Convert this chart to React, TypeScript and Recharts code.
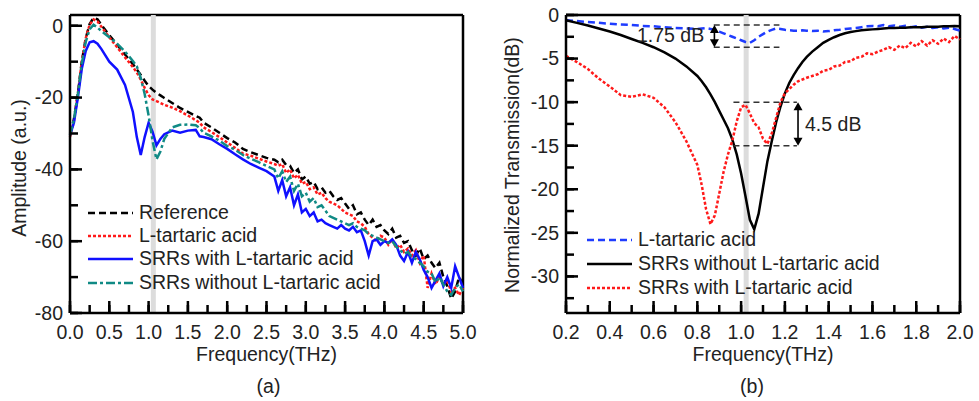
import React from 'react';
import { LineChart, Line, XAxis, YAxis, ReferenceLine } from 'recharts';

const FONT = '"Liberation Sans", Arial, sans-serif';
const FS = 19.5;

// ---- (a) amplitude spectra ----
const freqA = [
  0, 0.05, 0.1, 0.15, 0.2, 0.25, 0.3, 0.35, 0.4,
  0.5, 0.6, 0.7, 0.8,
  0.85, 0.9, 0.95, 1.0, 1.05, 1.1, 1.15,
  1.2, 1.3, 1.4, 1.5, 1.6,
  1.65, 1.7,
  1.8, 1.9, 2.0, 2.1, 2.2, 2.3, 2.4, 2.5, 2.6,
  2.65, 2.7, 2.75, 2.8, 2.85, 2.9, 2.95,
  3.0, 3.05, 3.1, 3.15, 3.2, 3.25, 3.3, 3.35, 3.4, 3.45, 3.5, 3.55, 3.6, 3.65, 3.7, 3.75, 3.8, 3.85, 3.9, 3.95,
  4.0, 4.05, 4.1, 4.15, 4.2, 4.25, 4.3, 4.35, 4.4, 4.45, 4.5, 4.55, 4.6, 4.65, 4.7, 4.75, 4.8, 4.85, 4.9, 4.95,
  5.0,
];
const referenceAmp = [
  -30, -26, -19, -10, -3.5, 0.5, 2.2, 1.8, 0.2,
  -2.6, -5.3, -8, -10.7,
  -12.2, -13.7, -15.3, -16.8, -17.8, -18.7, -19.4,
  -20.1, -21.5, -22.9, -24, -25.1,
  -25.6, -27,
  -28.3, -29.8, -31.3, -32.5, -34.3, -35.2, -36, -36.8, -37.3,
  -38, -37.3, -38.8, -39, -41, -40, -42.8,
  -42, -44, -43.5, -45.5, -45, -46.5, -46, -47.5, -48.5, -48, -49.5, -51, -50, -52.5, -52, -54, -55.5, -54, -56, -55.5,
  -57, -58, -56.5, -59, -58.5, -60.5, -60, -62.5, -64, -62, -65, -64, -66, -67.5, -66, -70, -72.5, -76, -74, -70,
  -72,
];
const tartaricAmp = [
  -31, -26.5, -19, -10, -3.5, 0.3, 1.8, 1.2, -0.3,
  -3.2, -6, -8.8, -11.5,
  -13, -15, -17.3, -19.3, -20.5, -21, -21.5,
  -22, -22.8, -23.8, -25, -26.3,
  -27, -28.3,
  -29.6, -31, -32.5, -34, -35.6, -36.2, -37, -37.8, -38.5,
  -39, -38.5, -41, -40, -42.5, -41.5, -44,
  -43.5, -45.5, -45, -47, -46.5, -48, -49, -49.5, -50, -51, -52, -52.5, -53, -54.5, -55, -56, -58, -59, -60, -58.5,
  -59, -61, -59.5, -62, -61, -63, -62, -64, -62.5, -66, -64, -73, -69, -72, -70, -72, -71, -74, -73, -75,
  -73,
];
const srrWithAmp = [
  -30.5, -27, -20, -12, -7, -4.6, -4.3, -5, -6.5,
  -10, -12.2, -16.5, -24,
  -31, -36, -31, -27, -29.5, -33.3, -31.5,
  -30.2, -29.2, -29.8, -29.2, -29,
  -30.8, -31,
  -31.6, -33, -34.3, -35.8, -37.2, -38.5, -39.5, -40.5, -42,
  -46, -43, -47.5, -45, -50, -47, -52,
  -51, -53, -52, -54.5, -54, -55, -55.5, -56, -56.5, -55.5, -56.5, -57, -56, -57.5, -57, -60, -64, -60, -59.5, -61,
  -60, -60.5, -59.5, -61, -64, -65.5, -63, -66, -63, -65, -68, -70, -73, -71, -69, -72.5, -70, -73, -67, -70,
  -73,
];
const srrWithoutAmp = [
  -30.5, -26, -19, -10.5, -4.5, -1, 0.3, -0.5, -1.5,
  -3.2, -5, -7.2, -9.8,
  -11.3, -14.5, -19, -25, -32, -37.2, -35,
  -31.5, -28.3, -27.6, -27.5, -27.7,
  -28.5, -29.8,
  -30.8, -32, -33.5, -34.5, -36, -37, -38, -39, -40,
  -42.5, -40.5, -43.5, -42, -46, -44, -47.5,
  -46.5, -49, -48, -50.5, -50, -51.5, -53, -53.5, -54, -54.5, -55, -55.5, -55, -56, -56.5, -57, -58, -58.5, -59, -59.5,
  -60, -60.5, -60, -61.5, -62.5, -63.5, -63, -64.5, -65, -66, -67, -68.5, -69, -71.5, -70, -72, -74, -75, -73, -72,
  -74,
];
const ticksAX = [0, 0.25, 0.5, 0.75, 1, 1.25, 1.5, 1.75, 2, 2.25, 2.5, 2.75, 3, 3.25, 3.5, 3.75, 4, 4.25, 4.5, 4.75, 5];
const ticksAY = [-80, -70, -60, -50, -40, -30, -20, -10, 0];

// ---- (b) normalized transmission ----
const freqB = [
  0.2, 0.25, 0.3, 0.35, 0.4, 0.45, 0.5, 0.55, 0.6, 0.65, 0.7, 0.75, 0.8,
  0.82, 0.84, 0.86, 0.88, 0.9, 0.92, 0.94, 0.96, 0.98, 1.0, 1.02, 1.04, 1.06, 1.08, 1.1, 1.12, 1.14, 1.16, 1.18, 1.2, 1.22, 1.24, 1.26, 1.28, 1.3,
  1.325, 1.35, 1.375, 1.4, 1.425, 1.45, 1.475, 1.5, 1.525, 1.55, 1.575, 1.6, 1.625, 1.65, 1.675, 1.7, 1.725, 1.75, 1.775, 1.8, 1.825, 1.85, 1.875, 1.9, 1.925, 1.95, 1.975, 2.0,
];
const tartaricTrans = [
  -0.6, -0.7, -0.8, -0.9, -1.0, -1.1, -1.15, -1.25, -1.3, -1.4, -1.5, -1.55, -1.6,
  -1.55, -1.5, -1.6, -1.7, -1.9, -2.1, -2.3, -2.5, -2.7, -2.9, -3.1, -3.2, -2.9, -2.5, -2.2, -1.9, -1.7, -1.55, -1.6, -1.7, -1.75, -1.8, -1.8, -1.75, -1.8,
  -1.85, -1.8, -1.9, -1.85, -1.75, -1.7, -1.6, -1.55, -1.5, -1.4, -1.3, -1.25, -1.3, -1.15, -1.3, -1.2, -1.35, -1.25, -1.4, -1.3, -1.45, -1.35, -1.5, -1.4, -1.55, -1.45, -1.6, -1.8,
];
const srrWithoutTrans = [
  -0.6, -0.9, -1.2, -1.55, -1.9, -2.3, -2.75, -3.2, -3.7, -4.3, -5.0, -5.9, -7.0,
  -7.6, -8.3, -9.1, -10.0, -11.0, -12.0, -13.0, -14.3, -16.0, -18.2, -20.8, -23.5, -24.6, -22.8, -19.8, -16.8, -14.5, -12.3, -10.5, -9.0, -7.8, -6.9, -6.1, -5.4, -4.8,
  -4.2, -3.7, -3.2, -2.85, -2.55, -2.3, -2.1, -1.95, -1.85, -1.75, -1.7, -1.65, -1.6, -1.55, -1.5, -1.5, -1.45, -1.45, -1.4, -1.4, -1.4, -1.35, -1.35, -1.35, -1.3, -1.3, -1.25, -1.3,
];
const srrWithTrans = [
  -4.7, -5.4, -6.2, -7.3, -8.2, -9.2, -9.4, -9.1, -9.5, -10.6, -12.3, -14.5, -17.2,
  -19.5, -22.3, -24.0, -23.0, -20.5, -18.0, -16.0, -14.4, -12.2, -10.6, -10.3, -11.3, -12.4, -12.9, -14.2, -14.8, -13.6, -11.8, -10.0, -9.0, -8.5, -8.0, -7.6, -7.4, -7.2,
  -7.0, -6.8, -6.4, -6.3, -5.9, -5.8, -5.4, -5.3, -4.9, -4.8, -4.4, -4.5, -4.2, -4.0, -3.7, -4.0, -3.5, -3.8, -3.2, -3.6, -3.0, -3.5, -2.9, -3.3, -2.7, -3.1, -2.4, -2.8,
];
const ticksBX = [0.2, 0.3, 0.4, 0.5, 0.6, 0.7, 0.8, 0.9, 1.0, 1.1, 1.2, 1.3, 1.4, 1.5, 1.6, 1.7, 1.8, 1.9, 2.0];
const ticksBY = [-32.5, -30, -27.5, -25, -22.5, -20, -17.5, -15, -12.5, -10, -7.5, -5, -2.5, 0];

const dataA = freqA.map((f, i) => ({
  f,
  ref: referenceAmp[i],
  lta: tartaricAmp[i],
  srrWith: srrWithAmp[i],
  srrWithout: srrWithoutAmp[i],
}));
const dataB = freqB.map((f, i) => ({
  f,
  lta: tartaricTrans[i],
  srrWithout: srrWithoutTrans[i],
  srrWith: srrWithTrans[i],
}));

const seriesA = [
  { key: 'ref', name: 'Reference', color: '#000000', dash: '7 4' },
  { key: 'lta', name: 'L-tartaric acid', color: '#ff1a1a', dash: '3 2' },
  { key: 'srrWith', name: 'SRRs with L-tartaric acid', color: '#1010ff', dash: undefined },
  { key: 'srrWithout', name: 'SRRs without L-tartaric acid', color: '#108a85', dash: '9 3 3 3' },
];
const seriesB = [
  { key: 'lta', name: 'L-tartaric acid', color: '#1f3cff', dash: '7 4' },
  { key: 'srrWithout', name: 'SRRs without L-tartaric acid', color: '#000000', dash: undefined },
  { key: 'srrWith', name: 'SRRs with L-tartaric acid', color: '#ff1a1a', dash: '3 2' },
];

const isMult = (v: number, step: number) => Math.abs(v / step - Math.round(v / step)) < 1e-6;

const TICK = 8; // inward tick length from tickLine

// labels for the major ticks only; majors also get a slightly longer mark
const xTick = (step: number) => (p: any) => {
  const { x, y, payload } = p;
  const axisY = y + TICK;
  if (!isMult(payload.value, step)) return <g />;
  return (
    <g>
      <line x1={x} x2={x} y1={axisY} y2={axisY - 12} stroke="#000" strokeWidth={2.5} />
      <text x={x} y={axisY + 26} textAnchor="middle" fontSize={FS} fontFamily={FONT} fill="#222">
        {payload.value.toFixed(1)}
      </text>
    </g>
  );
};
const yTick = (step: number) => (p: any) => {
  const { x, y, payload } = p;
  const axisX = x - TICK;
  if (!isMult(payload.value, step)) return <g />;
  return (
    <g>
      <line x1={axisX} x2={axisX + 12} y1={y} y2={y} stroke="#000" strokeWidth={2.5} />
      <text x={axisX - 7} y={y} dy="0.35em" textAnchor="end" fontSize={FS} fontFamily={FONT} fill="#222">
        {payload.value}
      </text>
    </g>
  );
};

const xLabel = (tag: string, tagShift: number) => (p: any) => {
  const { x, y, width } = p.viewBox;
  const cx = x + width / 2;
  return (
    <g fontFamily={FONT} fontSize={FS} fill="#222">
      <text x={cx} y={y + 48} textAnchor="middle">Frequency(THz)</text>
      <text x={cx + tagShift} y={y + 80} textAnchor="middle">{tag}</text>
    </g>
  );
};
const yLabel = (text: string, cx: number, cy: number) => () => (
  <text
    x={cx}
    y={cy}
    transform={`rotate(-90 ${cx} ${cy})`}
    textAnchor="middle"
    dy="0.35em"
    fontFamily={FONT}
    fontSize={FS}
    fill="#222"
  >
    {text}
  </text>
);

const arrow = (label: string) => (p: any) => {
  const { x1, y1, y2 } = p;
  const top = Math.min(y1, y2);
  const bot = Math.max(y1, y2);
  return (
    <g>
      <line x1={x1} x2={x1} y1={top + 6} y2={bot - 6} stroke="#000" strokeWidth={1.6} />
      <path d={`M${x1},${top} L${x1 - 4.5},${top + 8} L${x1 + 4.5},${top + 8} Z`} fill="#000" />
      <path d={`M${x1},${bot} L${x1 - 4.5},${bot - 8} L${x1 + 4.5},${bot - 8} Z`} fill="#000" />
      {label && (
        <text x={x1 + 7} y={(top + bot) / 2} dy="0.35em" fontFamily={FONT} fontSize={FS} fill="#222">
          {label}
        </text>
      )}
    </g>
  );
};

const LegendBox = ({ items, left, top, rowH }: { items: typeof seriesA; left: number; top: number; rowH: number }) => (
  <div style={{ position: 'absolute', left, top, fontFamily: FONT, fontSize: FS, color: '#222', lineHeight: 1 }}>
    {items.map((it) => (
      <div key={it.key} style={{ display: 'flex', alignItems: 'center', height: rowH }}>
        <svg width={46} height={10} style={{ display: 'block' }}>
          <line x1={0} x2={45} y1={5} y2={5} stroke={it.color} strokeWidth={2.5} strokeDasharray={it.dash} />
        </svg>
        <span style={{ marginLeft: 5, whiteSpace: 'nowrap' }}>{it.name}</span>
      </div>
    ))}
  </div>
);

const axisLine = { stroke: '#000', strokeWidth: 2.5 };
const tickLine = { stroke: '#000', strokeWidth: 2.5 };

export default function App() {
  return (
    <div style={{ position: 'absolute', left: 0, top: 0, width: 979, height: 401, background: '#fff' }}>
      <div style={{ position: 'absolute', left: 0, top: 0 }}>
        <LineChart width={480} height={401} data={dataA} margin={{ top: 15, right: 17, bottom: 58, left: 0 }}>
          <XAxis
            dataKey="f"
            type="number"
            domain={[0, 5]}
            ticks={ticksAX}
            interval={0}
            tickSize={-TICK}
            tickMargin={0}
            tickLine={tickLine}
            height={30}
            axisLine={axisLine}
            tick={xTick(0.5)}
            label={{ content: xLabel('(a)', 2) }}
          />
          <YAxis
            type="number"
            domain={[-80, 3]}
            ticks={ticksAY}
            interval={0}
            tickSize={-TICK}
            tickMargin={0}
            tickLine={tickLine}
            width={70}
            axisLine={axisLine}
            tick={yTick(20)}
            label={{ content: yLabel('Amplitude (a.u.)', 19, 168) }}
          />
          {/* plot frame: top and right edges */}
          <ReferenceLine y={3} stroke="#000" strokeWidth={2.5} ifOverflow="extendDomain" />
          <ReferenceLine x={5} stroke="#000" strokeWidth={2.5} />
          <ReferenceLine x={1.06} stroke="#dcdcdc" strokeWidth={5} />
          {seriesA.map((s) => (
            <Line
              key={s.key}
              dataKey={s.key}
              name={s.name}
              stroke={s.color}
              strokeWidth={2.5}
              strokeDasharray={s.dash}
              dot={false}
              type="linear"
              isAnimationActive={false}
            />
          ))}
        </LineChart>
        <LegendBox items={seriesA} left={88} top={201} rowH={23.3} />
      </div>

      <div style={{ position: 'absolute', left: 490, top: 0 }}>
        <LineChart width={489} height={401} data={dataB} margin={{ top: 15, right: 19, bottom: 58, left: 0 }}>
          <XAxis
            dataKey="f"
            type="number"
            domain={[0.2, 2.0]}
            ticks={ticksBX}
            interval={0}
            tickSize={-TICK}
            tickMargin={0}
            tickLine={tickLine}
            height={30}
            axisLine={axisLine}
            tick={xTick(0.2)}
            label={{ content: xLabel('(b)', -11) }}
          />
          <YAxis
            type="number"
            domain={[-34.2, 0]}
            ticks={ticksBY}
            interval={0}
            tickSize={-TICK}
            tickMargin={0}
            tickLine={tickLine}
            width={76}
            axisLine={axisLine}
            tick={yTick(5)}
            label={{ content: yLabel('Normalized Transmission(dB)', 22, 165) }}
          />
          <ReferenceLine y={0} stroke="#000" strokeWidth={2.5} />
          <ReferenceLine x={2.0} stroke="#000" strokeWidth={2.5} />
          <ReferenceLine x={1.023} stroke="#dcdcdc" strokeWidth={5} />
          {seriesB.map((s) => (
            <Line
              key={s.key}
              dataKey={s.key}
              name={s.name}
              stroke={s.color}
              strokeWidth={2.5}
              strokeDasharray={s.dash}
              dot={false}
              type="linear"
              isAnimationActive={false}
            />
          ))}
          {/* 1.75 dB marker */}
          <ReferenceLine segment={[{ x: 0.875, y: -1.15 }, { x: 1.175, y: -1.15 }]} stroke="#333" strokeWidth={1.5} strokeDasharray="6 4" />
          <ReferenceLine segment={[{ x: 0.875, y: -3.7 }, { x: 1.175, y: -3.7 }]} stroke="#333" strokeWidth={1.5} strokeDasharray="6 4" />
          <ReferenceLine segment={[{ x: 0.878, y: -1.15 }, { x: 0.878, y: -3.7 }]} shape={arrow('')} />
          {/* 4.5 dB marker */}
          <ReferenceLine segment={[{ x: 0.965, y: -10 }, { x: 1.255, y: -10 }]} stroke="#333" strokeWidth={1.5} strokeDasharray="6 4" />
          <ReferenceLine segment={[{ x: 0.965, y: -15 }, { x: 1.255, y: -15 }]} stroke="#333" strokeWidth={1.5} strokeDasharray="6 4" />
          <ReferenceLine segment={[{ x: 1.26, y: -10 }, { x: 1.26, y: -15 }]} shape={arrow('4.5 dB')} />
        </LineChart>
        <LegendBox items={seriesB} left={97} top={228} rowH={24} />
        <div style={{ position: 'absolute', left: 147, top: 26, fontFamily: FONT, fontSize: FS, color: '#222', lineHeight: 1 }}>
          1.75 dB
        </div>
      </div>
    </div>
  );
}
